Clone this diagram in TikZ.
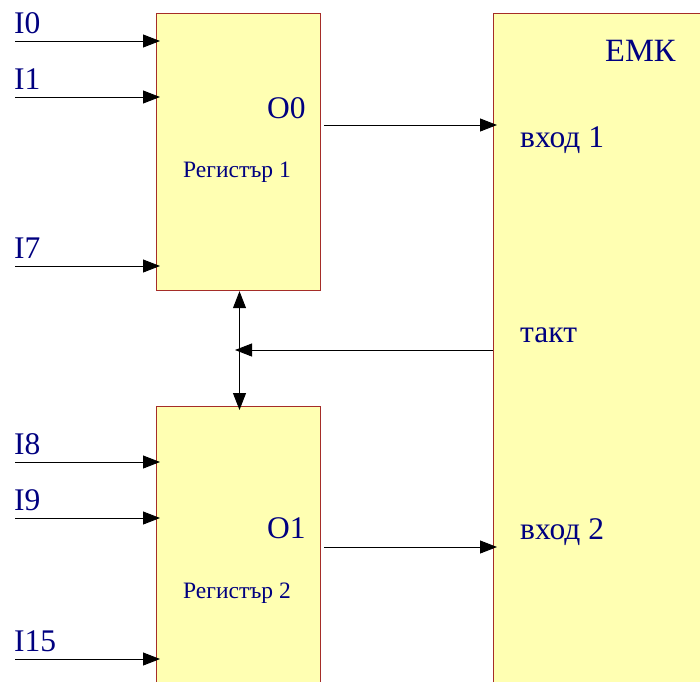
\documentclass[tikz,border=0pt]{standalone}
\usepackage{fontspec}
\setmainfont{Liberation Serif}
\usetikzlibrary{arrows.meta}
\definecolor{boxfill}{RGB}{255,255,178}
\definecolor{boxedge}{RGB}{165,45,40}
\definecolor{labelblue}{RGB}{0,0,128}
\tikzset{
  block/.style={draw=boxedge, fill=boxfill, line width=0.9pt, anchor=north west, inner sep=0pt},
  biglabel/.style={text=labelblue, inner sep=0pt, anchor=base west, font=\fontsize{31.5}{31.5}\selectfont},
  smalllabel/.style={text=labelblue, inner sep=0pt, anchor=base west, font=\fontsize{23.5}{23.5}\selectfont},
  wire/.style={line width=0.9pt, -{Triangle[length=17pt,width=13pt]}},
  wire2/.style={line width=0.9pt, {Triangle[length=17pt,width=13pt]}-{Triangle[length=17pt,width=13pt]}}
}
\begin{document}
\begin{tikzpicture}[x=1pt, y=-1pt]
\useasboundingbox (0,0) rectangle (700,681);
\clip (0,0) rectangle (700,681);
\fill[white] (0,0) rectangle (700,681);

% blocks
\node[block, minimum width=164.5pt, minimum height=277pt] (reg1) at (155.5,13.3) {};
\node[block, minimum width=164.5pt, minimum height=320pt] (reg2) at (155.5,406) {};
\node[block, minimum width=240pt, minimum height=720pt] (emk) at (492.5,13.3) {};

% labels inside the blocks
\node[biglabel] (lo0) at (267,118) {O0};
\node[smalllabel] (lr1) at (183,177) {Регистър 1};
\node[biglabel] (lo1) at (267,538) {O1};
\node[smalllabel] (lr2) at (183,598) {Регистър 2};
\node[biglabel, font=\fontsize{32.5}{32.5}\selectfont] (lemk) at (605,61) {ЕМК};
\node[biglabel] (lin1) at (520,147) {вход 1};
\node[biglabel] (ltakt) at (520,342) {такт};
\node[biglabel] (lin2) at (520,539) {вход 2};

% input labels
\node[biglabel] (li0) at (14,33) {I0};
\node[biglabel] (li1) at (14,89) {I1};
\node[biglabel] (li7) at (14,258) {I7};
\node[biglabel] (li8) at (14,454) {I8};
\node[biglabel] (li9) at (14,510) {I9};
\node[biglabel] (li15) at (14,651) {I15};

% input wire ends
\coordinate (s0) at (15,41);
\coordinate (s1) at (15,97);
\coordinate (s7) at (15,266);
\coordinate (s8) at (15,462);
\coordinate (s9) at (15,518);
\coordinate (s15) at (15,659);

\draw[wire] (s0) -- ([xshift=4.5pt]reg1.west |- s0);
\draw[wire] (s1) -- ([xshift=4.5pt]reg1.west |- s1);
\draw[wire] (s7) -- ([xshift=4.5pt]reg1.west |- s7);
\draw[wire] (s8) -- ([xshift=4.5pt]reg2.west |- s8);
\draw[wire] (s9) -- ([xshift=4.5pt]reg2.west |- s9);
\draw[wire] (s15) -- ([xshift=4.5pt]reg2.west |- s15);

% outputs to the EMK block
\coordinate (o0) at (324,125);
\coordinate (o1) at (324,547);
\draw[wire] (o0) -- ([xshift=4.5pt]emk.west |- o0);
\draw[wire] (o1) -- ([xshift=4.5pt]emk.west |- o1);

% clock line: shared by both registers
\coordinate (clktip) at (235,350);
\draw[wire2] ([xshift=1.3pt]reg1.south) -- ([xshift=1.3pt,yshift=-4pt]reg2.north);
\draw[wire] (emk.west |- clktip) -- (clktip);
\end{tikzpicture}
\end{document}
